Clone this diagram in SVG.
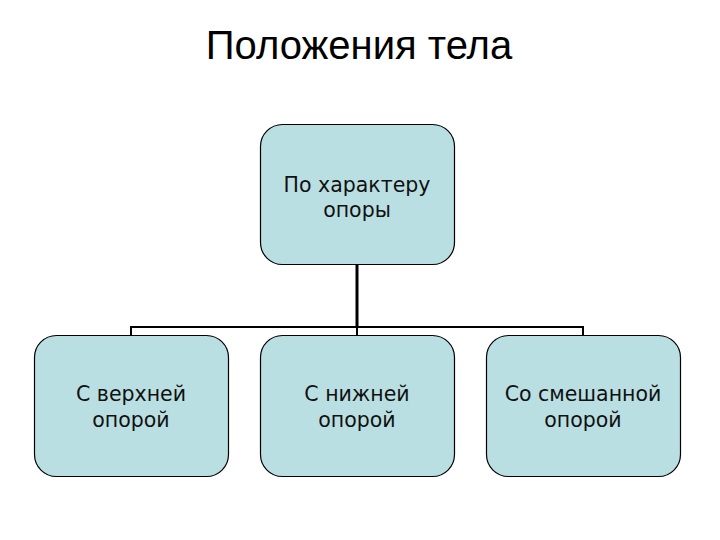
<svg xmlns="http://www.w3.org/2000/svg" width="720" height="540" viewBox="0 0 720 540">
<style>
.box{fill:#badfe2;stroke:#000;stroke-width:1.2}
.lbl{font-family:"DejaVu Sans",sans-serif;font-size:20.5px;fill:#111;text-anchor:middle}
.title{font-family:"Liberation Sans",Arial,sans-serif;font-size:40px;fill:#000;text-anchor:middle}
.con{fill:none;stroke:#000}
</style>
<rect width="720" height="540" fill="#fff"/>
<text class="title" x="359" y="59">Положения тела</text>
<g id="connectors">
<line class="con" x1="357" y1="265" x2="357" y2="327" stroke-width="3"/>
<polyline class="con" points="131,335 131,327 583,327 583,335" stroke-width="2"/>
<line class="con" x1="357" y1="327" x2="357" y2="335" stroke-width="2"/>
</g>
<g id="root">
<rect class="box" x="260.5" y="124.5" width="194" height="140" rx="22"/>
<text class="lbl" x="357" y="192">По характеру</text>
<text class="lbl" x="357" y="217">опоры</text>
</g>
<g id="upper">
<rect class="box" x="34.5" y="335.5" width="194" height="141" rx="22"/>
<text class="lbl" x="131" y="401">С верхней</text>
<text class="lbl" x="131" y="427">опорой</text>
</g>
<g id="lower">
<rect class="box" x="260.5" y="335.5" width="194" height="141" rx="22"/>
<text class="lbl" x="357" y="401">С нижней</text>
<text class="lbl" x="357" y="427">опорой</text>
</g>
<g id="mixed">
<rect class="box" x="486.5" y="335.5" width="194" height="141" rx="22"/>
<text class="lbl" x="583" y="401">Со смешанной</text>
<text class="lbl" x="583" y="427">опорой</text>
</g>
</svg>
